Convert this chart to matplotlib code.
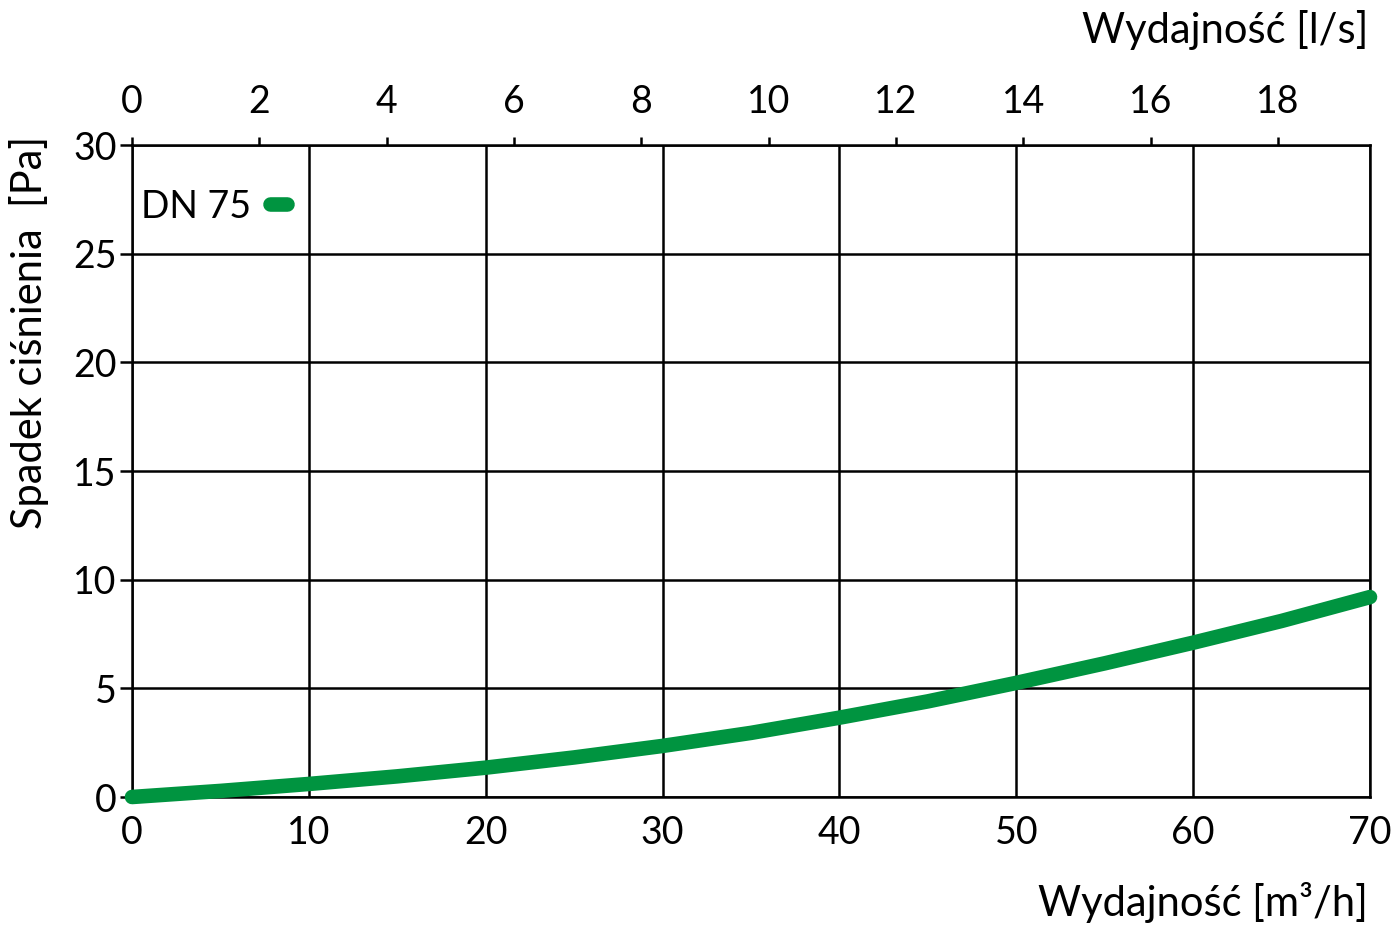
import matplotlib
matplotlib.use("Agg")
import matplotlib.pyplot as plt

flow_m3h = [0, 5, 10, 15, 20, 25, 30, 35, 40, 45, 50, 55, 60, 65, 70]
dp_pa = [0, 0.28, 0.6, 0.95, 1.35, 1.82, 2.35, 2.95, 3.65, 4.4, 5.25, 6.15, 7.1, 8.1, 9.2]
series_label = "DN 75"
x_ticks = [0, 10, 20, 30, 40, 50, 60, 70]
y_ticks = [0, 5, 10, 15, 20, 25, 30]
top_ticks = [0, 2, 4, 6, 8, 10, 12, 14, 16, 18]

plt.rcParams['font.family'] = ['Lato', 'DejaVu Sans']
W, H = 1399, 938
fig = plt.figure(figsize=(W/100, H/100), dpi=100)
ax = fig.add_axes([132/W, 1-797/H, (1370-132)/W, (797-145)/H])

green = '#009440'
ax.plot(flow_m3h, dp_pa, color=green, lw=10.5, solid_capstyle='round', label=series_label, zorder=5, clip_on=False)

ax.set_xlim(0, 70)
ax.set_ylim(0, 30)
ax.set_xticks(x_ticks)
ax.set_yticks(y_ticks)
ax.grid(True, color='black', lw=1.8)
for s in ax.spines.values():
    s.set_color('black')
    s.set_linewidth(1.8)
ax.tick_params(axis='x', length=0, pad=13, labelsize=27)
ax.tick_params(axis='y', length=9, width=1.8, pad=2, labelsize=27)

sec = ax.secondary_xaxis('top', functions=(lambda x: x/3.6, lambda x: x*3.6))
sec.set_xticks(top_ticks)
sec.tick_params(axis='x', length=6, width=1.8, pad=12, labelsize=27)
sec.spines['top'].set_visible(False)

ax.set_ylabel("Spadek ciśnienia  [Pa]", fontsize=30)
ax.yaxis.set_label_coords(-0.067, 0.713)
fig.text(1368/W, 1-30/H, "Wydajność [l/s]", fontsize=30, ha='right', va='center')
fig.text(1368/W, 1-902/H, "Wydajność [m³/h]", fontsize=30, ha='right', va='center')

leg = ax.legend(loc='upper left', frameon=False, markerfirst=False, fontsize=27,
                handlelength=0.45, handletextpad=0.5, bbox_to_anchor=(-0.02, 0.985),
                borderaxespad=0.5)

fig.savefig("out.png", dpi=100, facecolor='white')
